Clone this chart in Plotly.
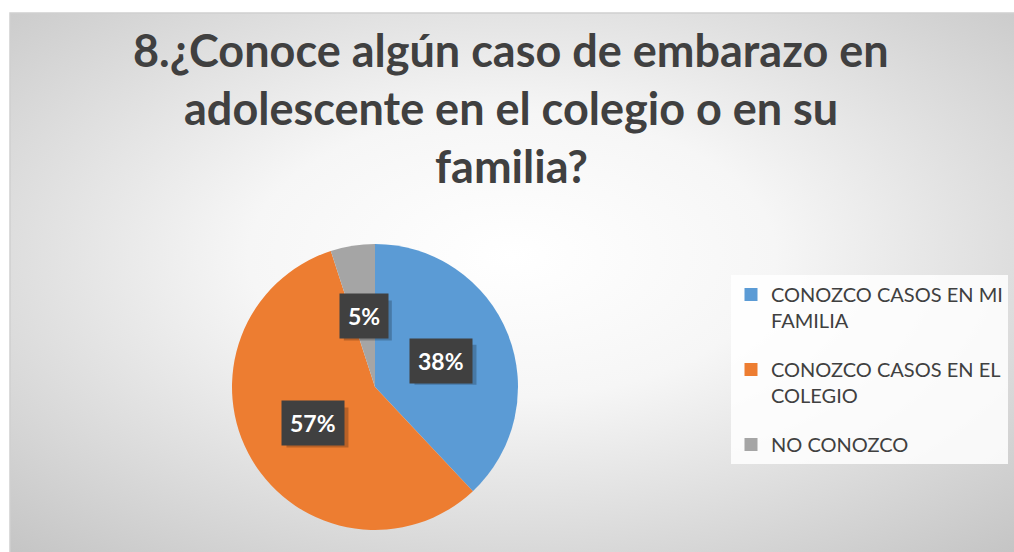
import base64
import math
import plotly.graph_objects as go

# Data
labels = ["CONOZCO CASOS EN MI<br>FAMILIA", "CONOZCO CASOS EN EL<br>COLEGIO", "NO CONOZCO"]
values = [38, 57, 5]
colors = ["#5B9BD5", "#ED7D31", "#A5A5A5"]
title_lines = ["8.¿Conoce algún caso de embarazo en", "adolescente en el colegio o en su", "familia?"]

W, H = 1014, 552
FONT = "Lato"

# radial gradient background for the chart area
svg = (
    '<svg xmlns="http://www.w3.org/2000/svg" width="1004" height="539" preserveAspectRatio="none">'
    '<defs><radialGradient id="g" cx="50%" cy="45%" r="75%">'
    '<stop offset="0" stop-color="#ffffff"/><stop offset="0.35" stop-color="#f6f6f6"/>'
    '<stop offset="1" stop-color="#c4c4c4"/></radialGradient></defs>'
    '<rect width="1004" height="539" fill="url(#g)"/></svg>'
)
bg_uri = "data:image/svg+xml;base64," + base64.b64encode(svg.encode()).decode()

# pie placement (pixels)
cx, cy, r = 375, 387, 143
dom_x = [(cx - r) / W, (cx + r) / W]
dom_y = [(H - cy - r) / H, (H - cy + r) / H]

fig = go.Figure(go.Pie(
    labels=labels, values=values, sort=False, direction="clockwise", rotation=0,
    marker=dict(colors=colors, line=dict(width=0)),
    textinfo="none", hoverinfo="label+percent",
    domain=dict(x=dom_x, y=dom_y), showlegend=False,
))

# legend entries (one per slice, so the gap between them can be set)
for i, (lab, col) in enumerate(zip(labels, colors)):
    fig.add_trace(go.Scatter(x=[None], y=[None], mode="markers", name=lab,
                             marker=dict(symbol="square", size=13, color=col),
                             legendgroup=f"g{i}", hoverinfo="skip"))

# data labels in dark boxes, placed at half radius on each slice's mid angle
total = sum(values)
cum = 0
for v in values:
    mid = (cum + v / 2) / total * 2 * math.pi
    cum += v
    px_ = cx + 0.5 * r * math.sin(mid)
    py_ = cy - 0.5 * r * math.cos(mid)
    pct = f"{round(v / total * 100)}%"
    half_w = (len(pct) * 14 + 20) / 2
    # soft drop shadow behind the box
    fig.add_shape(type="rect", xref="paper", yref="paper",
                  x0=(px_ - half_w + 4) / W, x1=(px_ + half_w + 4) / W,
                  y0=1 - (py_ + 24) / H, y1=1 - (py_ - 16) / H,
                  fillcolor="rgba(0,0,0,0.22)", line=dict(width=0), layer="above")
    fig.add_annotation(x=px_ / W, y=1 - py_ / H, xref="paper", yref="paper",
                       xanchor="center", yanchor="middle",
                       text=f"<b>{pct}</b>", showarrow=False, bgcolor="#404040",
                       font=dict(family=FONT, size=23, color="white"), borderpad=8)

# title lines
for i, line in enumerate(title_lines):
    fig.add_annotation(x=511 / W, y=1 - (50 + 58 * i) / H, xref="paper", yref="paper",
                       text=f"<b>{line}</b>", showarrow=False, xanchor="center", yanchor="middle",
                       font=dict(family=FONT, size=45, color="#404040"))

fig.add_layout_image(source=bg_uri, xref="paper", yref="paper", x=10 / W, y=1 - 13 / H,
                     sizex=1 - 10 / W, sizey=1 - 13 / H, sizing="stretch",
                     xanchor="left", yanchor="top", layer="below")
fig.add_shape(type="rect", xref="paper", yref="paper", x0=10 / W, y0=-0.01, x1=1.01, y1=1 - 13 / H,
              line=dict(color="#d0d0d0", width=1.5), layer="below")

fig.update_layout(
    width=W, height=H, margin=dict(l=0, r=0, t=0, b=0),
    paper_bgcolor="white", plot_bgcolor="rgba(0,0,0,0)",
    xaxis=dict(visible=False), yaxis=dict(visible=False),
    showlegend=True,
    legend=dict(x=731 / W, y=1 - 275 / H, xanchor="left", yanchor="top",
                bgcolor="rgba(255,255,255,0.85)", font=dict(family=FONT, size=20, color="#404040"),
                tracegroupgap=20, valign="top", itemwidth=30),
)

fig.write_html("out.html", config={"displayModeBar": False},
               post_script="document.body.style.margin='0';")
